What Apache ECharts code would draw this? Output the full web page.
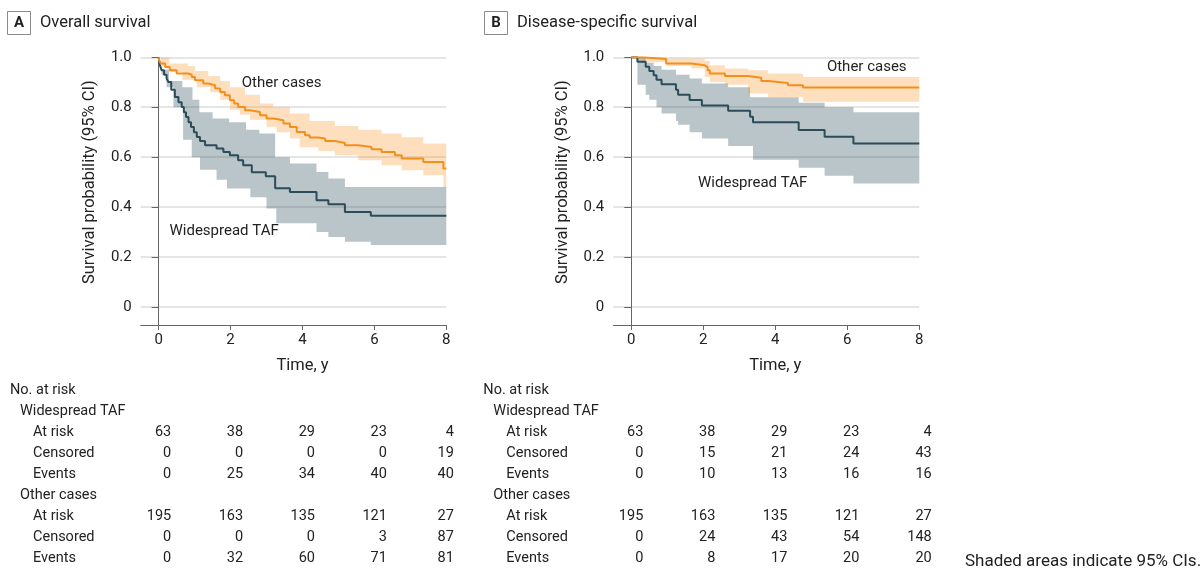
<!DOCTYPE html>
<html><head><meta charset="utf-8">
<script src="https://cdn.jsdelivr.net/npm/echarts@6/dist/echarts.min.js"></script>
<style>html,body{margin:0;padding:0;background:#fff}#c{width:1204px;height:569px}</style>
</head><body><div id="c"></div>
<script>
// ---------- axes ----------
const xTicks = [0, 2, 4, 6, 8];
const yTicks = [0, 0.2, 0.4, 0.6, 0.8, 1.0];

// ---------- Panel A: Overall survival ----------
const A_tafT = [0, 0.03, 0.08, 0.15, 0.22, 0.27, 0.35, 0.45, 0.55, 0.64, 0.7, 0.76, 0.83, 0.9, 0.98, 1.06, 1.15, 1.29, 1.61, 1.8, 1.98, 2.21, 2.35, 2.59, 2.98, 3.24, 3.65, 4.39, 4.72, 5.18, 5.9, 8];
const A_tafS = [1.0, 0.97, 0.948, 0.93, 0.915, 0.901, 0.87, 0.841, 0.82, 0.801, 0.78, 0.761, 0.74, 0.721, 0.70, 0.681, 0.665, 0.648, 0.635, 0.621, 0.608, 0.588, 0.568, 0.54, 0.524, 0.476, 0.461, 0.428, 0.412, 0.381, 0.365, 0.365];
const A_tafHiT = [0, 0.1, 0.29, 0.66, 0.94, 1.13, 1.5, 1.96, 2.43, 2.8, 3.24, 3.65, 4.39, 4.72, 5.18, 8];
const A_tafHi = [1.0, 0.95, 0.905, 0.88, 0.83, 0.78, 0.755, 0.74, 0.71, 0.695, 0.60, 0.575, 0.541, 0.515, 0.481, 0.481];
const A_tafLoT = [0, 0.08, 0.22, 0.41, 0.68, 0.92, 1.15, 1.61, 1.9, 2.55, 3.0, 3.27, 4.39, 4.72, 5.18, 5.9, 8];
const A_tafLo = [1.0, 0.93, 0.88, 0.80, 0.67, 0.60, 0.55, 0.51, 0.475, 0.44, 0.395, 0.335, 0.30, 0.28, 0.261, 0.248, 0.248];

const A_othT = [0, 0.02, 0.06, 0.18, 0.31, 0.5, 0.82, 0.92, 1.01, 1.24, 1.38, 1.57, 1.71, 1.84, 1.98, 2.1, 2.21, 2.4, 2.54, 2.82, 3.0, 3.19, 3.47, 3.65, 3.84, 4.07, 4.2, 4.44, 4.63, 4.9, 5.18, 5.55, 5.92, 6.2, 6.57, 6.76, 7.36, 7.92, 8];
const A_othS = [1.0, 0.985, 0.975, 0.961, 0.948, 0.935, 0.93, 0.921, 0.908, 0.895, 0.888, 0.875, 0.861, 0.848, 0.828, 0.815, 0.801, 0.788, 0.781, 0.768, 0.755, 0.748, 0.735, 0.721, 0.701, 0.688, 0.679, 0.675, 0.665, 0.657, 0.648, 0.641, 0.632, 0.621, 0.608, 0.595, 0.581, 0.555, 0.555];
const A_othHiT = [0, 0.3, 0.82, 1.01, 1.38, 1.71, 1.98, 2.4, 2.82, 3.19, 3.65, 4.2, 4.9, 5.55, 6.2, 6.76, 7.36, 8];
const A_othHi = [1.0, 0.975, 0.965, 0.945, 0.925, 0.905, 0.88, 0.85, 0.815, 0.80, 0.775, 0.745, 0.725, 0.71, 0.695, 0.68, 0.655, 0.645];
const A_othLoT = [0, 0.1, 0.31, 0.66, 1.06, 1.43, 1.71, 1.98, 2.26, 2.54, 3.0, 3.28, 3.65, 3.92, 4.44, 4.9, 5.55, 6.2, 6.76, 7.36, 7.92, 8];
const A_othLo = [1.0, 0.965, 0.94, 0.91, 0.88, 0.86, 0.83, 0.79, 0.77, 0.75, 0.722, 0.70, 0.675, 0.64, 0.625, 0.608, 0.588, 0.568, 0.548, 0.528, 0.478, 0.478];

// ---------- Panel B: Disease-specific survival ----------
const B_tafT = [0, 0.17, 0.4, 0.5, 0.62, 0.7, 0.84, 1.24, 1.3, 1.62, 1.96, 2.69, 3.3, 3.38, 4.65, 5.37, 6.17, 8];
const B_tafS = [1.0, 0.982, 0.962, 0.945, 0.928, 0.91, 0.892, 0.87, 0.85, 0.829, 0.807, 0.786, 0.762, 0.74, 0.709, 0.682, 0.655, 0.655];
const B_tafHiT = [0, 0.17, 0.4, 0.62, 0.84, 1.24, 1.62, 1.96, 2.69, 3.3, 4.65, 5.37, 6.17, 8];
const B_tafHi = [1.0, 1.0, 0.978, 0.965, 0.95, 0.93, 0.915, 0.895, 0.88, 0.84, 0.818, 0.80, 0.78, 0.78];
const B_tafLoT = [0, 0.17, 0.4, 0.5, 0.7, 0.84, 1.24, 1.3, 1.62, 1.96, 2.69, 3.38, 4.65, 5.37, 6.17, 8];
const B_tafLo = [1.0, 0.89, 0.85, 0.83, 0.80, 0.775, 0.745, 0.73, 0.70, 0.675, 0.645, 0.59, 0.558, 0.526, 0.495, 0.495];

const B_othT = [0, 0.3, 0.97, 1.67, 2.04, 2.12, 2.18, 2.6, 3.24, 3.61, 3.8, 4.35, 4.77, 8];
const B_othS = [1.0, 0.993, 0.975, 0.968, 0.961, 0.948, 0.935, 0.925, 0.918, 0.905, 0.897, 0.888, 0.879, 0.879];
const B_othHiT = [0, 0.97, 2.04, 2.18, 2.6, 3.24, 3.8, 4.77, 8];
const B_othHi = [1.0, 0.995, 0.985, 0.968, 0.955, 0.948, 0.935, 0.921, 0.921];
const B_othLoT = [0, 0.3, 0.97, 1.67, 2.04, 2.18, 2.6, 3.24, 3.8, 4.77, 8];
const B_othLo = [1.0, 0.98, 0.965, 0.955, 0.921, 0.901, 0.89, 0.855, 0.841, 0.822, 0.822];

// ---------- Number-at-risk tables ----------
const rowLabels = ['At risk', 'Censored', 'Events'];
const A_tafRisk = [63, 38, 29, 23, 4], A_tafCens = [0, 0, 0, 0, 19], A_tafEv = [0, 25, 34, 40, 40];
const A_othRisk = [195, 163, 135, 121, 27], A_othCens = [0, 0, 0, 3, 87], A_othEv = [0, 32, 60, 71, 81];
const B_tafRisk = [63, 38, 29, 23, 4], B_tafCens = [0, 15, 21, 24, 43], B_tafEv = [0, 10, 13, 16, 16];
const B_othRisk = [195, 163, 135, 121, 27], B_othCens = [0, 24, 43, 54, 148], B_othEv = [0, 8, 17, 20, 20];

// ---------- styling ----------
const FONT = 'Roboto';
const ORANGE = '#f3901c';
const DARK = '#2b4c58';
const ORANGE_BAND = 'rgba(250,150,40,0.30)';
const DARK_BAND = 'rgba(43,79,92,0.33)';
const TXT = '#222';

const chart = echarts.init(document.getElementById('c'), null, {renderer: 'canvas'});

function stepPts(t, v) {
  const pts = [];
  for (let i = 0; i < t.length; i++) {
    if (i > 0) pts.push([t[i], v[i - 1]]);
    pts.push([t[i], v[i]]);
  }
  return pts;
}
function band(gi, tHi, hi, tLo, lo, color, z) {
  return {
    type: 'custom', xAxisIndex: gi, yAxisIndex: gi, silent: true, z: z, clip: true,
    data: [[0, 1]],
    renderItem: function (params, api) {
      const up = stepPts(tHi, hi).map(p => api.coord(p));
      const dn = stepPts(tLo, lo).reverse().map(p => api.coord(p));
      return {type: 'polygon', shape: {points: up.concat(dn)}, style: {fill: color}};
    }
  };
}
function km(gi, t, s, color) {
  return {
    type: 'line', xAxisIndex: gi, yAxisIndex: gi, step: 'end', showSymbol: false, symbol: 'none',
    silent: true, z: 5, lineStyle: {color: color, width: 2}, data: t.map((x, i) => [x, s[i]])
  };
}
function xAx(gi) {
  return {
    type: 'value', gridIndex: gi, min: -0.5, max: 8,
    axisLine: {show: true, onZero: false, lineStyle: {color: '#666', width: 1}},
    axisTick: {show: true, customValues: xTicks, length: 5, lineStyle: {color: '#666'}},
    axisLabel: {customValues: xTicks, color: TXT, fontSize: 15, fontFamily: FONT, margin: 8},
    splitLine: {show: false},
    name: 'Time, y', nameLocation: 'middle', nameGap: 32,
    nameTextStyle: {color: TXT, fontSize: 16.5, fontFamily: FONT, padding: [0, 0, 0, 18]}
  };
}
function yAx(gi) {
  return {
    type: 'value', gridIndex: gi, min: -0.072, max: 1.0,
    axisLine: {show: true, lineStyle: {color: '#666', width: 1}},
    axisTick: {show: true, customValues: yTicks, length: 7, lineStyle: {color: '#666'}},
    axisLabel: {customValues: yTicks, color: TXT, fontSize: 15, fontFamily: FONT, margin: 9,
      formatter: v => (v === 0 ? '0' : v.toFixed(1))},
    splitLine: {show: true, lineStyle: {color: '#dcdcdc', width: 1.5}},
    name: 'Survival probability (95% CI)', nameLocation: 'middle', nameGap: 42,
    nameTextStyle: {color: TXT, fontSize: 16.5, fontFamily: FONT, padding: [0, 0, 0, 18]}
  };
}

chart.setOption({
  animation: false,
  backgroundColor: '#fff',
  grid: [
    {left: 140.7, top: 57.3, width: 305.6, height: 267.7, outerBoundsMode: 'none', containLabel: false},
    {left: 613.3, top: 57.3, width: 306, height: 267.7, outerBoundsMode: 'none', containLabel: false}
  ],
  xAxis: [xAx(0), xAx(1)],
  yAxis: [yAx(0), yAx(1)],
  series: [
    band(0, A_tafHiT, A_tafHi, A_tafLoT, A_tafLo, DARK_BAND, 1),
    band(0, A_othHiT, A_othHi, A_othLoT, A_othLo, ORANGE_BAND, 2),
    km(0, A_tafT, A_tafS, DARK),
    km(0, A_othT, A_othS, ORANGE),
    band(1, B_tafHiT, B_tafHi, B_tafLoT, B_tafLo, DARK_BAND, 1),
    band(1, B_othHiT, B_othHi, B_othLoT, B_othLo, ORANGE_BAND, 2),
    km(1, B_tafT, B_tafS, DARK),
    km(1, B_othT, B_othS, ORANGE)
  ]
});

// ---------- graphic: titles, curve labels, tables, footnote ----------
const g = [];
function txt(x, y, s, opt) {
  g.push(Object.assign({
    type: 'text', x: x, y: y, silent: true,
    style: Object.assign({text: s, fill: TXT, font: '14.5px ' + FONT, textAlign: 'left', textVerticalAlign: 'middle'}, opt || {})
  }));
}
function panelTitle(bx, letter, label) {
  g.push({type: 'rect', silent: true, shape: {x: bx + 0.5, y: 11.5, width: 23, height: 23},
    style: {fill: '#fff', stroke: '#8a8a8a', lineWidth: 1}});
  txt(bx + 12, 23.5, letter, {font: 'bold 15px ' + FONT, textAlign: 'center'});
  txt(bx + 33, 23, label, {font: '16.5px ' + FONT});
}
panelTitle(7, 'A', 'Overall survival');
panelTitle(484, 'B', 'Disease-specific survival');

function labelAt(gi, t, p, s) {
  const pt = chart.convertToPixel({xAxisIndex: gi, yAxisIndex: gi}, [t, p]);
  txt(pt[0], pt[1], s, {textAlign: 'center', font: '15px ' + FONT});
}
labelAt(0, 3.42, 0.897, 'Other cases');
labelAt(0, 1.82, 0.305, 'Widespread TAF');
labelAt(1, 6.54, 0.961, 'Other cases');
labelAt(1, 3.37, 0.497, 'Widespread TAF');

function table(gi, x0, shifts, taf, oth) {
  const rowY0 = 390, dy = 21;
  txt(x0, rowY0, 'No. at risk');
  txt(x0 + 10, rowY0 + dy, 'Widespread TAF');
  txt(x0 + 10, rowY0 + 5 * dy, 'Other cases');
  const groups = [[taf, rowY0 + 2 * dy], [oth, rowY0 + 6 * dy]];
  groups.forEach(([rows, yStart]) => {
    rows.forEach((vals, r) => {
      const y = yStart + r * dy;
      txt(x0 + 23, y, rowLabels[r]);
      vals.forEach((v, c) => {
        const px = chart.convertToPixel({xAxisIndex: gi}, xTicks[c]);
        txt(px + shifts[c], y, String(v), {textAlign: 'right'});
      });
    });
  });
}
table(0, 10, [12.5, 12.5, 12.5, 12.5, 7.5], [A_tafRisk, A_tafCens, A_tafEv], [A_othRisk, A_othCens, A_othEv]);
table(1, 483.3, [12, 12, 12, 12, 12.4], [B_tafRisk, B_tafCens, B_tafEv], [B_othRisk, B_othCens, B_othEv]);

txt(965, 562, 'Shaded areas indicate 95% CIs.', {font: '17px ' + FONT});

chart.setOption({graphic: g});
</script>
</body></html>
